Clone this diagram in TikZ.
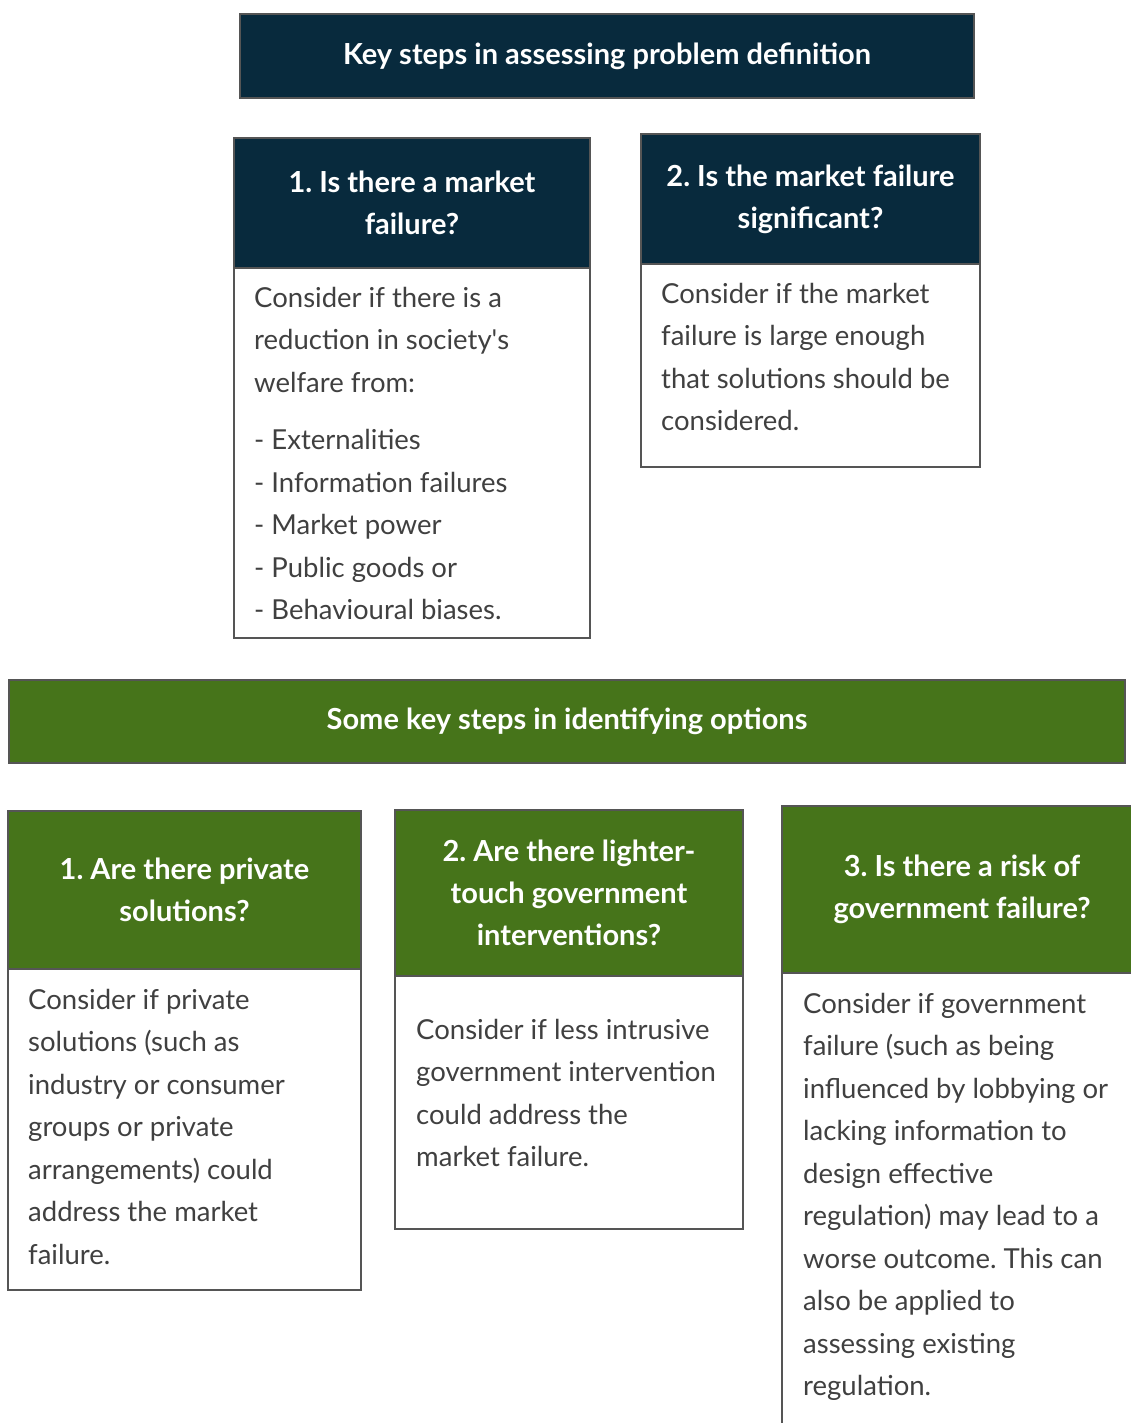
\documentclass[tikz,border=0pt]{standalone}
\usepackage{fontspec}
\setmainfont{Lato}
\frenchspacing
\definecolor{navy}{HTML}{082A3D}
\definecolor{leaf}{HTML}{46741A}
\definecolor{ink}{HTML}{404040}
\definecolor{edge}{HTML}{555555}
\begin{document}
\begin{tikzpicture}[x=1pt,y=-1pt,
  box/.style={draw=edge,line width=1.5pt,inner sep=0pt,outer sep=0pt,rectangle},
  navybox/.style={box,fill=navy},
  leafbox/.style={box,fill=leaf},
  plainbox/.style={box,fill=white},
  headtext/.style={font=\fontsize{29}{42}\selectfont\bfseries,text=white,align=center},
  bodytext/.style={font=\fontsize{27.5}{42.5}\selectfont,text=ink,align=left,anchor=north west,inner sep=0pt}]
\useasboundingbox (0,0) rectangle (1131,1423);
\clip (0,0) rectangle (1131,1423);

% problem definition
\node[navybox,headtext,minimum width=734,minimum height=84] (title1) at (607,56)
  {Key steps in assessing problem definition};

\node[navybox,headtext,minimum width=356,minimum height=130] (headA) at (412,203)
  {1. Is there a market\\failure?};
\node[plainbox,minimum width=356,minimum height=370] (bodyA) at (412,453) {};
\node[bodytext] (textA) at (254,287)
  {Consider if there is a\\reduction in society\textquotesingle s\\welfare from:\\[15pt]
   - Externalities\\- Information failures\\- Market power\\- Public goods or\\- Behavioural biases.};

\node[navybox,headtext,minimum width=339,minimum height=130] (headB) at (810.5,199)
  {2. Is the market failure\\significant?};
\node[plainbox,minimum width=339,minimum height=203] (bodyB) at (810.5,365.5) {};
\node[bodytext] (textB) at (661,283)
  {Consider if the market\\failure is large enough\\that solutions should be\\considered.};

% identifying options
\node[leafbox,headtext,minimum width=1116,minimum height=83] (title2) at (567,721.5)
  {Some key steps in identifying options};

\node[leafbox,headtext,minimum width=353,minimum height=158] (headC) at (184.5,890)
  {1. Are there private\\solutions?};
\node[plainbox,minimum width=353,minimum height=321] (bodyC) at (184.5,1129.5) {};
\node[bodytext] (textC) at (28,989)
  {Consider if private\\solutions (such as\\industry or consumer\\groups or private\\arrangements) could\\address the market\\failure.};

\node[leafbox,headtext,minimum width=348,minimum height=166] (headD) at (569,893)
  {2. Are there lighter-\\touch government\\interventions?};
\node[plainbox,minimum width=348,minimum height=253] (bodyD) at (569,1102.5) {};
\node[bodytext] (textD) at (416,1019)
  {Consider if less intrusive\\government intervention\\could address the\\market failure.};

\node[leafbox,headtext,minimum width=360,minimum height=167] (headE) at (962,889.5)
  {3. Is there a risk of\\government failure?};
\node[plainbox,minimum width=360,minimum height=467] (bodyE) at (962,1206.5) {};
\node[bodytext] (textE) at (803,993)
  {Consider if government\\failure (such as being\\influenced by lobbying or\\lacking information to\\design effective\\regulation) may lead to a\\worse outcome. This can\\also be applied to\\assessing existing\\regulation.};
\end{tikzpicture}
\end{document}
